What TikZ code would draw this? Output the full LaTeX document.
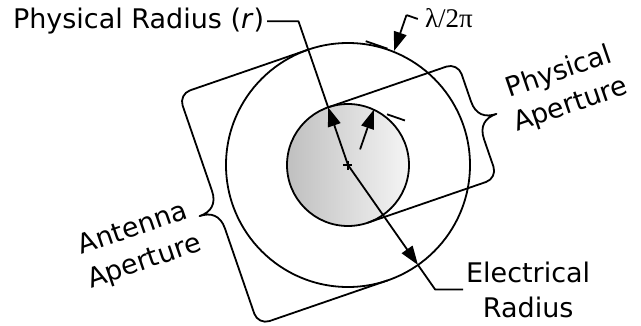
\documentclass[tikz,border=0pt]{standalone}
\usepackage{fontspec}
\setmainfont{DejaVu Sans}
\newfontfamily\greekfont{Liberation Serif}
\usetikzlibrary{arrows.meta,calc}
\tikzset{
  lbl/.style={font=\fontsize{27}{35}\selectfont, inner sep=2pt},
  dimarrow/.style={-{Triangle[length=19pt,width=13pt]}},
}
\begin{document}
\begin{tikzpicture}[x=1pt, y=1pt, line width=1.8pt, line join=round]
	\useasboundingbox (-348,-160) rectangle (293,165);
	\coordinate (C) at (0,0);
	% circles and centre mark
	\shade[left color=black!25, right color=black!4] (C) circle (61);
	\draw (C) circle (61);
	\draw (C) circle (122);
	\draw[line width=1.4pt] (-4.5,0) -- (4.5,0) (0,-4.5) -- (0,4.5);
	% the two apertures, in the turned frame
	\begin{scope}[rotate=19]
		\draw (0,122) -- (-125,122) arc[start angle=90, end angle=180, radius=12]
			-- (-137,20) .. controls (-137,6) and (-145,0) .. (-157,0)
			.. controls (-145,0) and (-137,-6) .. (-137,-20)
			-- (-137,-110) arc[start angle=180, end angle=270, radius=12] -- (0,-122);
		\draw (0,61) -- (125,61) arc[start angle=90, end angle=0, radius=12]
			-- (137,20) .. controls (137,6) and (145,0) .. (157,0)
			.. controls (145,0) and (137,-6) .. (137,-20)
			-- (137,-49) arc[start angle=0, end angle=-90, radius=12] -- (0,-61);
	\end{scope}
	\node[lbl, rotate=19, align=center] (antap) at (-209,-81) {Antenna\\Aperture};
	\node[lbl, rotate=19, align=center] (physap) at (217,76) {Physical\\Aperture};
	% physical radius
	\coordinate (P) at (109:61);
	\coordinate (Pbend) at (109:152);
	\draw[dimarrow] (C) -- (P);
	\draw (P) -- (Pbend) -- ++(-31.5,0) coordinate (Pend);
	\node[lbl, anchor=east] (physr) at (Pend) {Physical Radius (\textit{r})};
	% electrical radius
	\coordinate (E) at (-55:122);
	\coordinate (Ebend) at (-55:152);
	\draw[dimarrow] (C) -- (E);
	\draw (E) -- (Ebend) -- ++(28,0) coordinate (Eend);
	\node[lbl, anchor=west, align=center] (elecr) at (Eend) {Electrical\\Radius};
	% lambda/2pi gap
	\coordinate (A) at (68:123);
	\coordinate (B) at (65:61);
	\coordinate (Atail) at ($(A)!-38pt!(B)$);
	\coordinate (Btail) at ($(B)!-42pt!(A)$);
	\draw[dimarrow] (Atail) -- (A);
	\draw (Atail) -- ($(Atail)!12pt!90:(A)$);
	\draw[dimarrow] (Btail) -- (B);
	\draw ($(A)!30pt!-90:(B)$) -- ($(A)!7pt!-90:(B)$);
	\draw ($(B)!14pt!-90:(A)$) -- ($(B)!33pt!-90:(A)$);
	\node[font=\greekfont\fontsize{27}{30}\selectfont] (lam) at (101,147) {λ/2π};
\end{tikzpicture}
\end{document}
